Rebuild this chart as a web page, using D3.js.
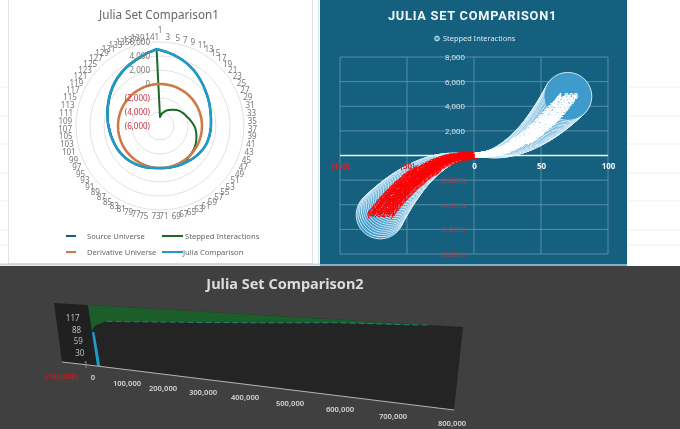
<!DOCTYPE html>
<html><head><meta charset="utf-8">
<script src="https://cdn.jsdelivr.net/npm/d3@7/dist/d3.min.js"></script>
<style>html,body{margin:0;padding:0;background:#fff;overflow:hidden}svg{display:block;filter:blur(0.35px)}text{font-family:"Noto Sans",sans-serif}</style>
</head><body><svg id="c" width="680" height="429"></svg>
<script>
// ---------- Radar chart data ----------
const radarCategories = [1,3,5,7,9,11,13,15,17,19,21,23,25,27,29,31,33,35,37,39,41,43,45,47,49,51,53,55,57,59,61,63,65,67,69,71,73,75,77,79,81,83,85,87,89,91,93,95,97,99,101,103,105,107,109,111,113,115,117,119,121,123,125,127,129,131,133,135,137,139,141,142];
const juliaComparison = [4850,4620,4380,4130,3880,3620,3350,3070,2790,2530,2290,2080,1900,1730,1580,1450,1370,1300,1270,1230,1190,1150,1100,1010,900,790,670,550,430,340,260,190,130,80,40,10,10,60,130,210,300,390,480,570,660,740,810,880,940,990,1050,1130,1220,1330,1470,1580,1740,1920,2110,2320,2540,2770,3000,3220,3440,3650,3850,4050,4290,4590,4820,5000];
const sourceUniverse = [4850,4620,4380,4130,3880,3620,3350,3070,2790,2530,2290,2080,1900,1730,1580,1450,1370,1300,1270,1230,1190,1150,1100,1010,900,790,670,550,430,340,260,190,130,80,40,10,10,60,130,210,300,390,480,570,660,740,810,880,940,990,1050,1130,1220,1330,1470,1580,1740,1920,2110,2320,2540,2770,3000,3220,3440,3650,3850,4050,4290,4590,4820,5000];
const derivativeUniverse = [0,0,0,0,0,0,0,0,0,0,0,0,0,0,0,0,0,0,0,0,0,0,0,0,0,0,0,0,0,0,0,0,0,0,0,0,0,0,0,0,0,0,0,0,0,0,0,0,0,0,0,0,0,0,0,0,0,0,0,0,0,0,0,0,0,0,0,0,0,0,0,0];
const steppedInteractions = [-4710,-4430,-4140,-3930,-3710,-3500,-3330,-3140,-2930,-2710,-2540,-2370,-2230,-2070,-1930,-1710,-1500,-1290,-1040,-860,-710,-570,-430,-290,-190,-100,-30,70,200,300,230,170,110,60,20,0,0,40,110,190,280,370,460,550,640,720,790,860,920,970,1030,1110,1200,1310,1450,1560,1700,1870,2050,2260,2480,2710,2930,3150,3370,3580,3790,3990,4240,4540,4790,5000];
const radarTicks = [-6000,-4000,-2000,0,2000,4000,6000];

// ---------- Bubble chart data ----------
const bubbleNegX = [-70,-69,-68,-67,-66,-65,-64,-63,-62,-61,-60,-59,-58,-57,-56,-55,-54,-53,-52,-51,-50,-49,-48,-47,-46,-45,-44,-43,-42,-41,-40,-39,-38,-37,-36,-35,-34,-33,-32,-31,-30,-29,-28,-27,-26,-25,-24,-23,-22,-21,-20,-19,-18,-17,-16,-15,-14,-13,-12,-11,-10,-9,-8,-7,-6,-5,-4,-3,-2,-1];
const bubbleNegY = [-4820,-4670,-4520,-4380,-4250,-4110,-3980,-3850,-3720,-3600,-3470,-3350,-3230,-3120,-3000,-2890,-2780,-2680,-2570,-2470,-2370,-2270,-2170,-2080,-1990,-1900,-1810,-1720,-1640,-1560,-1480,-1400,-1330,-1260,-1190,-1120,-1050,-990,-930,-870,-810,-750,-700,-650,-600,-550,-510,-460,-420,-380,-350,-310,-280,-250,-220,-190,-160,-140,-120,-100,-80,-64,-50,-38,-28,-18,-12,-6,-3,-1];
const bubblePosX = [1,2,3,4,5,6,7,8,9,10,11,12,13,14,15,16,17,18,19,20,21,22,23,24,25,26,27,28,29,30,31,32,33,34,35,36,37,38,39,40,41,42,43,44,45,46,47,48,49,50,51,52,53,54,55,56,57,58,59,60,61,62,63,64,65,66,67,68,69,70];
const bubblePosY = [1,3,6,12,18,28,38,50,64,80,98,118,140,163,189,216,246,277,311,346,383,422,464,507,553,600,650,701,755,810,868,928,990,1054,1120,1188,1258,1330,1405,1482,1561,1641,1725,1810,1898,1987,2080,2174,2270,2367,2470,2573,2678,2784,2893,3003,3118,3234,3352,3472,3595,3720,3848,3978,4109,4241,4378,4516,4657,4800];
const bubbleXTicks = [-100,-50,0,50,100];
const bubbleYTicks = [-8000,-6000,-4000,-2000,0,2000,4000,6000,8000];

// ---------- 3-D area chart data ----------
const area3dX = [0,3000,8000,13000,35000,100000,230000,380000,530000,600000,680000,730000];
const area3dSteppedLevel = [82,90,96,100,110,114,122,131,140,142,144,146];
const area3dJuliaLevel = [1,20,40,60,82];
const area3dJuliaWidth = [7000,7000,6500,6000,5000];
const area3dXTicks = [-100000,0,100000,200000,300000,400000,500000,600000,700000,800000];
const area3dLevelTicks = [1,30,59,88,117];

// ---------- helpers ----------
const svg = d3.select('#c');
const fmt = d3.format(',.0f');
const acct = v => v < 0 ? '(' + fmt(-v) + ')' : fmt(v);

// ---------- sheet backdrop ----------
svg.append('rect').attr('width',680).attr('height',429).attr('fill','#fff');
const sheet = svg.append('g').attr('stroke','#f0f0f0').attr('stroke-width',1);
[87,116,144,173,201,230,245].forEach(y=>{
  sheet.append('line').attr('x1',627).attr('x2',680).attr('y1',y).attr('y2',y);
  sheet.append('line').attr('x1',0).attr('x2',8).attr('y1',y).attr('y2',y);
});
svg.append('rect').attr('x',8.5).attr('y',-2).attr('width',304).attr('height',265.5).attr('fill','#fff').attr('stroke','#dde3e6');
svg.append('line').attr('x1',318.5).attr('x2',318.5).attr('y1',0).attr('y2',265).attr('stroke','#d3e9f2').attr('stroke-width',1.2);
svg.append('rect').attr('x',0).attr('y',263.5).attr('width',320).attr('height',2).attr('fill','#cfd4d6');

// ---------- Radar ----------
(function(){
  const g = svg.append('g').attr('transform','translate(160,126)');
  const r = d3.scaleLinear().domain([-6000,6000]).range([0,84]);
  const a = d3.scaleLinear().domain([1,143]).range([0,2*Math.PI]);
  radarTicks.slice(1).forEach(t=>{
    g.append('circle').attr('r',r(t)).attr('fill','none').attr('stroke','#dedede').attr('stroke-width',0.9);
  });
  const line = d3.lineRadial().angle((d,i)=>a(radarCategories[i])).radius(d=>r(d)).curve(d3.curveLinearClosed);
  [[sourceUniverse,'#156082',2.3],[steppedInteractions,'#196b24',2],[derivativeUniverse,'#cf7a45',2.6],[juliaComparison,'#1f9bc8',2.5]].forEach(([s,c,w])=>{
    g.append('path').attr('d',line(s)).attr('fill','none').attr('stroke',c).attr('stroke-width',w).attr('stroke-linejoin','round');
  });
  radarTicks.forEach(t=>{
    g.append('text').attr('x',-10).attr('y',-r(t)+3).attr('text-anchor','end').attr('font-size',8)
      .attr('fill',t<0?'#c8323c':'#777').text(acct(t));
  });
  radarCategories.filter(k=>k%2===1).forEach(k=>{
    const th=a(k), R=88, sx=Math.sin(th), cx=Math.cos(th);
    g.append('text').attr('x',R*sx).attr('y',-(R+(k===1?7:0))*cx+(3-2*cx)+0.5)
      .attr('text-anchor',Math.abs(sx)<0.12?'middle':(sx>0?'start':'end'))
      .attr('font-size',8).attr('fill','#777').text(k);
  });
  svg.append('text').attr('x',159).attr('y',19).attr('text-anchor','middle').attr('font-size',11.7).attr('fill','#666').text('Julia Set Comparison1');
  [['Source Universe','#156082',66,76,87,236],['Stepped Interactions','#196b24',162,183,185,236],['Derivative Universe','#cf7a45',66,76,87,252],['Julia Comparison','#1f9bc8',162,183,183,252]].forEach(([t,c,x1,x2,tx,y])=>{
    svg.append('line').attr('x1',x1).attr('x2',x2).attr('y1',y).attr('y2',y).attr('stroke',c).attr('stroke-width',2);
    svg.append('text').attr('x',tx).attr('y',y+3).attr('font-size',7.6).attr('fill','#666').text(t);
  });
})();

// ---------- Bubble ----------
(function(){
  svg.append('rect').attr('x',320).attr('y',0).attr('width',307).attr('height',265).attr('fill','#15607f');
  svg.append('rect').attr('x',320).attr('y',264).attr('width',307).attr('height',2).attr('fill','#7fb2cc');
  const x = d3.scaleLinear().domain([-100,100]).range([340,608]);
  const y = d3.scaleLinear().domain([-8000,8000]).range([254,57]);
  const size = d3.scaleSqrt().domain([0,4800]).range([0,24]);
  const grid = svg.append('g').attr('stroke','#5f93ac').attr('stroke-width',0.9);
  bubbleXTicks.forEach(t=>grid.append('line').attr('x1',x(t)).attr('x2',x(t)).attr('y1',y(8000)).attr('y2',y(-8000)));
  bubbleYTicks.forEach(t=>grid.append('line').attr('x1',x(-100)).attr('x2',x(100)).attr('y1',y(t)).attr('y2',y(t)));
  const pts = bubbleNegX.map((v,i)=>({x:v,y:bubbleNegY[i]})).concat(bubblePosX.map((v,i)=>({x:v,y:bubblePosY[i]})));
  svg.append('g').selectAll('circle').data(pts).join('circle')
    .attr('cx',d=>x(d.x)).attr('cy',d=>y(d.y)).attr('r',d=>size(Math.abs(d.y)))
    .attr('fill','#3f9bcb').attr('stroke','#eef7fb').attr('stroke-width',0.85);
  svg.append('line').attr('x1',x(-100)).attr('x2',x(100)).attr('y1',y(0)).attr('y2',y(0)).attr('stroke','#eef5f8').attr('stroke-width',1.3);
  const ya = svg.append('g').attr('transform',`translate(${x(0)-1},0)`).call(d3.axisLeft(y).tickValues(bubbleYTicks).tickSize(0).tickPadding(8).tickFormat(acct));
  ya.select('.domain').remove();
  ya.selectAll('text').attr('font-size',7.8).style('font-family','"Noto Sans",sans-serif').attr('fill',d=>d<0?'#a8414f':'#dbe7ee');
  const xa = svg.append('g').attr('transform',`translate(0,${y(0)+8})`).call(d3.axisBottom(x).tickValues(bubbleXTicks).tickSize(0).tickPadding(0).tickFormat(acct));
  xa.select('.domain').remove();
  xa.selectAll('text').attr('font-size',8).attr('font-weight',700).style('font-family','"Noto Sans",sans-serif').attr('fill',d=>d<0?'#d0242c':'#f4f8fa');
  svg.append('g').selectAll('text').data(pts).join('text')
    .attr('x',d=>x(d.x)).attr('y',d=>y(d.y)+2.5).attr('text-anchor','middle').attr('font-size',8).attr('font-weight',700)
    .attr('fill',d=>d.y<0?'#ff0000':'#ffffff').text(d=>acct(d.y));
  svg.append('text').attr('x',472.5).attr('y',20).attr('text-anchor','middle').style('font-family','Roboto,sans-serif').attr('font-size',12.8).attr('font-weight',700).attr('letter-spacing',0.75).attr('fill','#f2f6f8').text('JULIA SET COMPARISON1');
  svg.append('circle').attr('cx',437).attr('cy',38.5).attr('r',2.4).attr('fill','#3f9bcb').attr('stroke','#dcecf4').attr('stroke-width',0.9);
  svg.append('text').attr('x',443).attr('y',41).attr('font-size',7.4).attr('fill','#dbe7ee').text('Stepped Interactions');
})();

// ---------- 3-D area ----------
(function(){
  svg.append('rect').attr('x',0).attr('y',266).attr('width',680).attr('height',163).attr('fill','#404040');
  const bx = d3.scaleLinear().domain([-100000,0,800000]).range([62,97,454]);
  const by = d3.scaleLinear().domain([-100000,0,800000]).range([362,366,410]);
  const tx = d3.scaleLinear().domain([-100000,0,800000]).range([54,88,463]);
  const ty = d3.scaleLinear().domain([-100000,0,800000]).range([303,305,327]);
  const lev = d3.scaleLinear().domain([1,146]).range([0,1]);
  const P = (v,l)=>{const f=lev(l);return [bx(v)+(tx(v)-bx(v))*f, by(v)+(ty(v)-by(v))*f];};
  const poly = d3.line();
  svg.append('path').attr('d',poly([P(-100000,1),P(-100000,146),P(0,146),P(0,1)])+'Z').attr('fill','#202020');
  svg.append('path').attr('d',poly([P(0,1),P(0,146),P(800000,146),P(800000,1)])+'Z').attr('fill','#242424');
  const top = area3dX.map(v=>P(v,146));
  const low = area3dX.map((v,i)=>P(v,area3dSteppedLevel[i]));
  svg.append('path').attr('d',poly(top.concat(low.slice().reverse()))+'Z').attr('fill','#1b5e29');
  svg.append('path').attr('d',poly(low.slice(4))).attr('fill','none').attr('stroke','#1f8f8f').attr('stroke-width',0.8).attr('stroke-dasharray','6 3');
  const jl = area3dJuliaLevel.map(l=>P(0,l));
  const jr = area3dJuliaLevel.map((l,i)=>P(area3dJuliaWidth[i],l));
  svg.append('path').attr('d',poly(jl.concat(jr.slice().reverse()))+'Z').attr('fill','#1f9bc8');
  svg.append('path').attr('d',poly([P(-100000,1),P(0,1),P(800000,1)])).attr('fill','none').attr('stroke','#b4b4b4').attr('stroke-width',1);
  const lx = d3.scaleLinear().domain(area3dXTicks).range([62,93,127,163,203,245,290,340,393,452]);
  const ly = d3.scaleLinear().domain(area3dXTicks).range([379,380,386,391,395,400,406,412,419,426]);
  area3dXTicks.forEach(t=>{
    svg.append('text').attr('x',lx(t)).attr('y',ly(t)).attr('text-anchor','middle').attr('font-size',7.6).attr('font-weight',600)
      .attr('fill',t<0?'#b81f24':'#d4d4d4').text(acct(t));
  });
  area3dLevelTicks.forEach(l=>{
    const p=P(-100000,l);
    svg.append('text').attr('x',p[0]+(l===1?26:24)).attr('y',p[1]+6).attr('text-anchor','end').attr('font-size',8).attr('fill',l===1?'#9a9a9a':'#bdbdbd').text(l);
  });
  svg.append('text').attr('x',285).attr('y',289).attr('text-anchor','middle').attr('font-size',14.5).attr('font-weight',700).attr('fill','#dcdcdc').text('Julia Set Comparison2');
})();
</script></body></html>
